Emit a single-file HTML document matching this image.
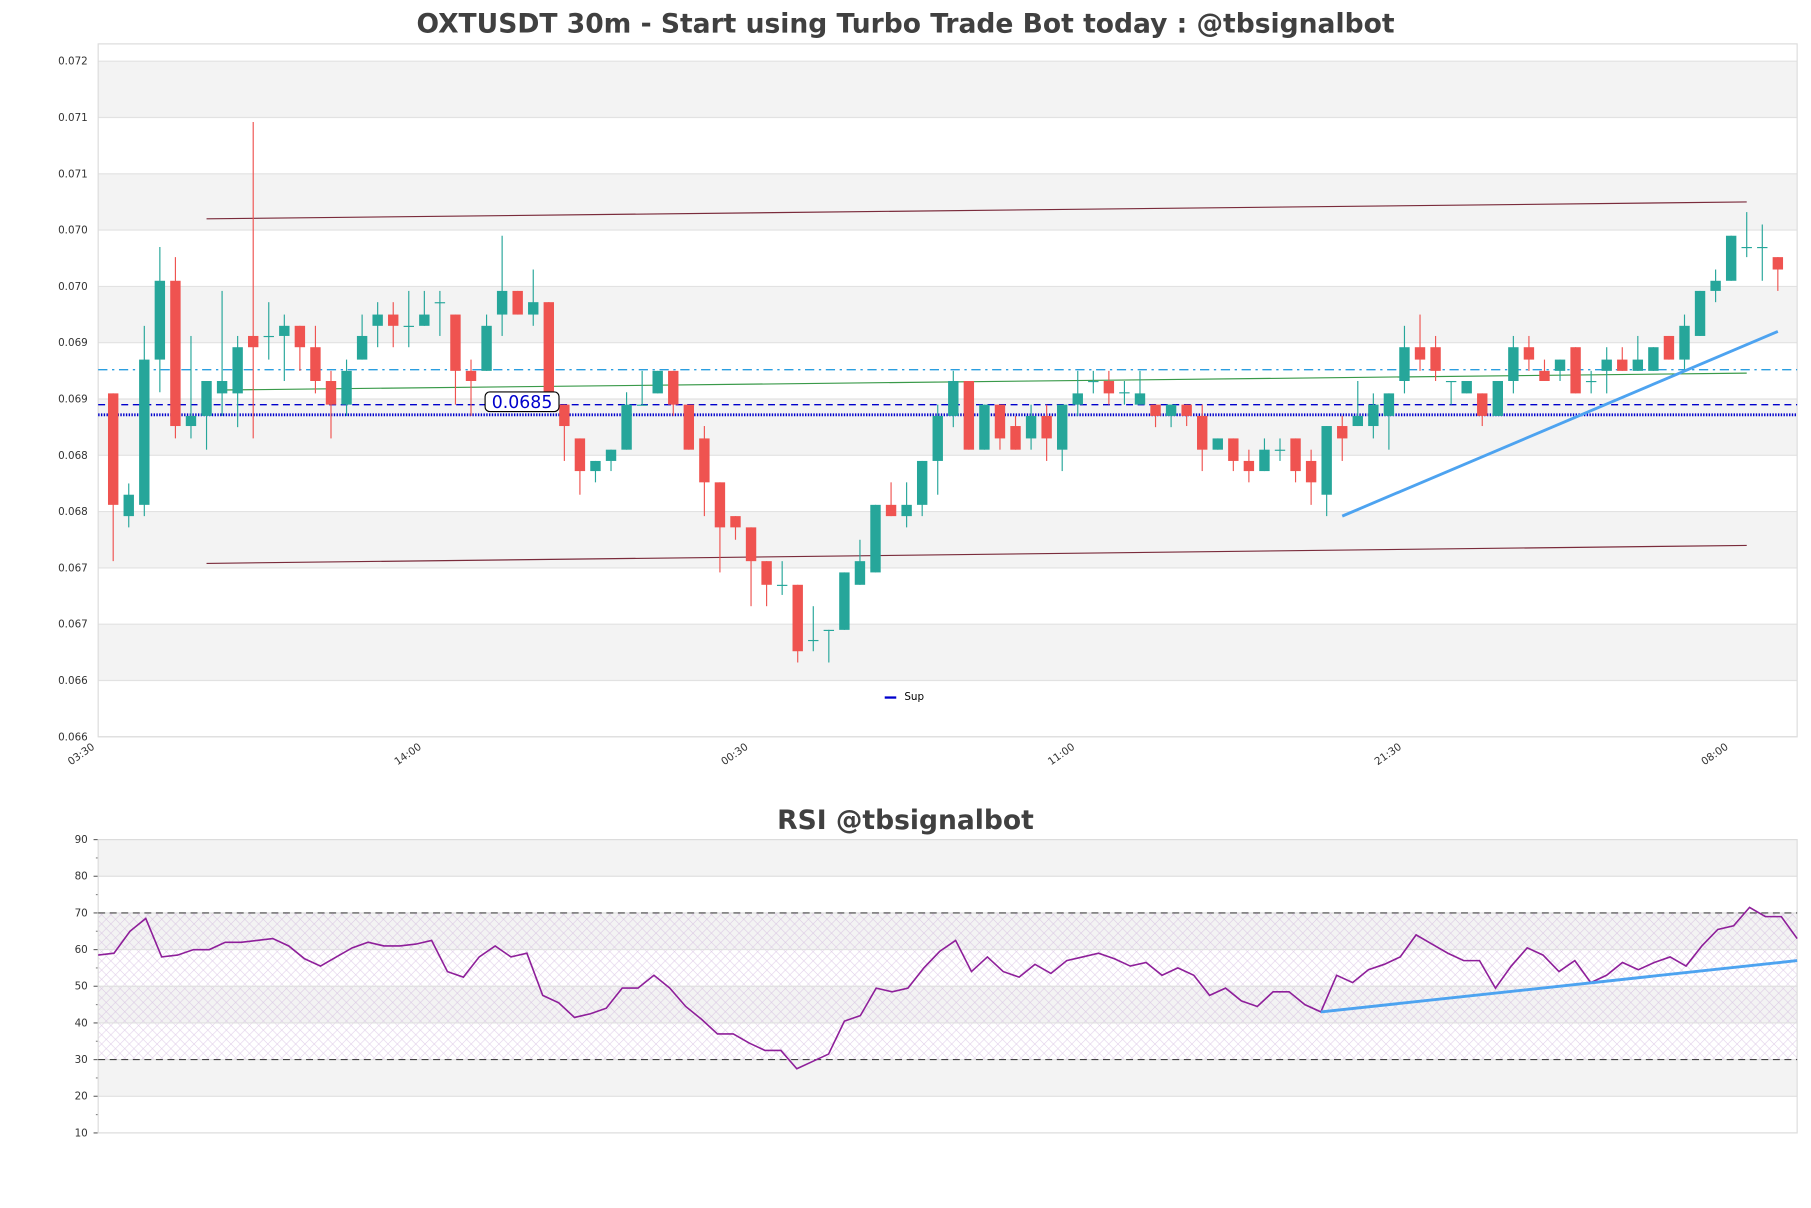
<!DOCTYPE html>
<html><head><meta charset="utf-8"><style>
html,body{margin:0;padding:0;background:#fff;}
svg{display:block;font-family:"DejaVu Sans","Liberation Sans",sans-serif;}
</style></head><body>
<svg id="chart" width="1811" height="1208" viewBox="0 0 1568 1046" preserveAspectRatio="none" xmlns="http://www.w3.org/2000/svg">
<defs>
<pattern id="hatch" width="8" height="8" patternUnits="userSpaceOnUse">
<path d="M0,0 L8,8 M8,0 L0,8" stroke="#c8a8d8" stroke-width="0.5" opacity="0.6"/>
</pattern>
</defs>
<text x="784" y="28" text-anchor="middle" font-size="23" font-weight="bold" fill="#404040">OXTUSDT 30m - Start using Turbo Trade Bot today : @tbsignalbot</text>
<g id="price"></g>
<text x="784" y="718" text-anchor="middle" font-size="23" font-weight="bold" fill="#404040">RSI @tbsignalbot</text>
<g id="rsi"></g>
</svg>
<script>
const opens=[.06905,.06796,.06806,.06935,.07005,.06876,.06885,.06905,.06905,.06956,.06956,.06956,.06965,.06946,.06916,.06895,.06935,.06965,.06975,.06965,.06965,.06986,.06975,.06925,.06925,.06975,.06996,.06975,.06986,.06895,.06865,.06836,.06845,.06855,.06895,.06905,.06925,.06895,.06865,.06826,.06796,.06786,.06756,.06735,.06735,.06686,.06695,.06695,.06735,.06746,.06806,.06796,.06806,.06845,.06885,.06916,.06855,.06895,.06876,.06865,.06885,.06855,.06895,.06916,.06916,.06906,.06895,.06895,.06885,.06895,.06885,.06855,.06865,.06845,.06836,.06855,.06865,.06845,.06815,.06876,.06876,.06876,.06885,.06916,.06946,.06946,.06916,.06905,.06905,.06885,.06916,.06946,.06925,.06925,.06946,.06916,.06925,.06935,.06925,.06925,.06956,.06935,.06956,.06996,.07005,.07035,.07035,.07026];
const highs=[.06905,.06825,.06965,.07035,.07026,.06956,.06916,.06996,.06956,.07146,.06986,.06975,.06965,.06965,.06925,.06935,.06975,.06986,.06986,.06996,.06996,.06996,.06975,.06935,.06975,.07045,.06996,.07015,.06986,.06895,.06865,.06845,.06855,.06906,.06925,.06925,.06925,.06895,.06876,.06826,.06796,.06786,.06756,.06756,.06735,.06716,.06695,.06746,.06775,.06806,.06826,.06826,.06845,.06895,.06925,.06916,.06895,.06895,.06885,.06895,.06895,.06895,.06925,.06925,.06925,.06916,.06925,.06895,.06895,.06895,.06895,.06865,.06865,.06855,.06865,.06865,.06865,.06855,.06876,.06885,.06916,.06905,.06905,.06965,.06975,.06956,.06916,.06916,.06905,.06916,.06956,.06956,.06935,.06935,.06946,.06925,.06946,.06946,.06956,.06946,.06956,.06975,.06996,.07015,.07045,.07066,.07055,.07026];
const lows=[.06756,.06786,.06796,.06906,.06865,.06865,.06855,.06885,.06875,.06865,.06935,.06916,.06925,.06905,.06865,.06885,.06935,.06946,.06946,.06946,.06965,.06956,.06895,.06885,.06925,.06956,.06975,.06965,.06895,.06845,.06815,.06826,.06836,.06855,.06895,.06905,.06885,.06855,.06796,.06746,.06775,.06716,.06716,.06726,.06666,.06676,.06666,.06695,.06735,.06746,.06796,.06786,.06796,.06815,.06875,.06855,.06855,.06855,.06855,.06855,.06845,.06836,.06885,.06905,.06895,.06895,.06895,.06875,.06875,.06876,.06836,.06855,.06836,.06826,.06836,.06845,.06826,.06806,.06796,.06845,.06876,.06865,.06855,.06905,.06925,.06916,.06895,.06905,.06876,.06885,.06905,.06925,.06916,.06916,.06905,.06905,.06905,.06925,.06925,.06925,.06935,.06925,.06956,.06986,.07005,.07026,.07005,.06996];
const closes=[.06806,.06815,.06935,.07005,.06876,.06885,.06916,.06916,.06946,.06946,.06956,.06965,.06946,.06916,.06895,.06925,.06956,.06975,.06965,.06965,.06975,.06986,.06925,.06916,.06965,.06996,.06975,.06986,.06905,.06876,.06836,.06845,.06855,.06895,.06895,.06925,.06895,.06855,.06826,.06786,.06786,.06756,.06735,.06735,.06676,.06686,.06695,.06746,.06756,.06806,.06796,.06806,.06845,.06885,.06916,.06855,.06895,.06865,.06855,.06885,.06865,.06895,.06905,.06916,.06905,.06906,.06905,.06885,.06895,.06885,.06855,.06865,.06845,.06836,.06855,.06855,.06836,.06826,.06876,.06865,.06885,.06895,.06905,.06946,.06935,.06925,.06916,.06916,.06885,.06916,.06946,.06935,.06916,.06935,.06905,.06916,.06935,.06925,.06935,.06946,.06935,.06965,.06996,.07005,.07045,.07035,.07035,.07015];
const priceTicks=[0.072,0.0715,0.071,0.0705,0.070,0.0695,0.069,0.0685,0.068,0.0675,0.067,0.0665,0.066];
const priceTickLabels=["0.072","0.071","0.071","0.070","0.070","0.069","0.069","0.068","0.068","0.067","0.067","0.066","0.066"];
const timeTickIdx=[-1,20,41,62,83,104];
const timeTickLabels=["03:30","14:00","00:30","11:00","21:30","08:00"];
const resLevel=0.06926, supLevel=0.06895, supDot=0.06886;
const upperChan=[6,0.0706,105,0.07075];
const lowerChan=[6,0.06754,105,0.0677];
const midLine=[7,0.06908,105,0.06923];
const trendLine=[79,0.06796,107,0.0696];
const rsiValues=[58.5,59,65,68.5,58,58.5,60,60,62,62,62.5,63,61,57.5,55.5,58,60.5,62,61,61,61.5,62.5,54,52.5,58,61,58,59,47.5,45.5,41.5,42.5,44,49.5,49.5,53,49.5,44.5,41,37,37,34.5,32.5,32.5,27.5,29.5,31.5,40.5,42,49.5,48.5,49.5,55,59.5,62.5,54,58,54,52.5,56,53.5,57,58,59,57.5,55.5,56.5,53,55,53,47.5,49.5,46,44.5,48.5,48.5,45,43,53,51,54.5,56,58,64,61.5,59,57,57,49.5,55.5,60.5,58.5,54,57,51,53,56.5,54.5,56.5,58,55.5,61,65.5,66.5,71.5,69,69,63];
const rsiTicks=[90,80,70,60,50,40,30,20,10];
const rsiTrend=[77,43,107,57];

const NS="http://www.w3.org/2000/svg";
function mk(parent,tag,attrs){const e=document.createElementNS(NS,tag);for(const k in attrs)e.setAttribute(k,attrs[k]);parent.appendChild(e);return e;}
const PL=85,PR=1556,PT=38,PB=638;
const yP=v=>53+(0.072-v)*97500;
const xC=i=>98+i*13.47;
const pg=document.getElementById('price');
// bands
for(let k=0;k<priceTicks.length-1;k++){
  const r=mk(pg,'rect',{x:PL,y:yP(priceTicks[k]),width:PR-PL,height:yP(priceTicks[k+1])-yP(priceTicks[k]),fill:k%2===0?'#f3f3f3':'#ffffff'});
  
  
}
priceTicks.forEach((v,k)=>{
  const l=mk(pg,'line',{x1:PL,x2:PR,y1:yP(v),y2:yP(v),stroke:'#e2e2e2','stroke-width':1});
  
  
  const t=mk(pg,'text',{x:76,y:yP(v)+3,'text-anchor':'end','font-size':9,fill:'#333'});
  t.textContent=priceTickLabels[k];
  
  
});
const fr=mk(pg,'rect',{x:PL,y:PT,width:PR-PL,height:PB-PT,fill:'none',stroke:'#dcdcdc'});


timeTickIdx.forEach((ix,k)=>{
  const x=xC(ix);
  const t=mk(pg,'text',{x:x-2,y:648,'text-anchor':'end','font-size':9,fill:'#333',transform:`rotate(-35 ${x-2} 648)`});
  t.textContent=timeTickLabels[k];
  
  
});
function seg(arr,color,w,name,dash){
  const l=mk(pg,'line',{x1:xC(arr[0]),y1:yP(arr[1]),x2:xC(arr[2]),y2:yP(arr[3]),stroke:color,'stroke-width':w});
  if(dash)l.setAttribute('stroke-dasharray',dash);
  
  
}
seg(upperChan,'#7a2b3b',1,'upper-channel-line');
seg(lowerChan,'#7a2b3b',1,'lower-channel-line');
seg(midLine,'#3a9a4a',1,'mid-trend-line');
function hline(v,color,w,dash,name){
  const l=mk(pg,'line',{x1:PL,x2:PR,y1:yP(v),y2:yP(v),stroke:color,'stroke-width':w,'stroke-dasharray':dash});
  
  
}
hline(resLevel,'#2a9ee0',1.2,'8 4 2 4','resistance-line');
hline(supLevel,'#0000cc',1.2,'6 4','support-line');
hline(supDot,'#0000cc',2.5,'1.2 1.2','support-dotted-line');
// candles
for(let i=0;i<opens.length;i++){
  const up=closes[i]>=opens[i];const col=up?'#26a69a':'#ef5350';const x=xC(i);
  const w=mk(pg,'line',{x1:x,x2:x,y1:yP(highs[i]),y2:yP(lows[i]),stroke:col,'stroke-width':1});
  
  
  const top=yP(Math.max(opens[i],closes[i])),bot=yP(Math.min(opens[i],closes[i]));
  const b=mk(pg,'rect',{x:x-4.5,y:top,width:9,height:Math.max(bot-top,1),fill:col});
  
  
}
seg(trendLine,'#4da3f0',2.5,'support-trend-line');
const lb=mk(pg,'rect',{x:420,y:yP(supLevel)-11,width:64,height:17,rx:4,fill:'#fff',stroke:'#000','stroke-width':1});


const lt=mk(pg,'text',{x:452,y:yP(supLevel)+3,'text-anchor':'middle','font-size':15,fill:'#0000cc'});
lt.textContent='0.0685';


const lgl=mk(pg,'line',{x1:766,x2:776,y1:604,y2:604,stroke:'#0000cc','stroke-width':2});


const lgt=mk(pg,'text',{x:783,y:606,'font-size':9,fill:'#000'});
lgt.textContent='Sup';



// RSI
const rg=document.getElementById('rsi');
const RT=727,RB=981;
const yR=v=>RB-(v-10)*(RB-RT)/80;
const xR=k=>PL+k*(PR-PL)/(rsiValues.length-1);
for(let k=0;k<rsiTicks.length-1;k++){
  const r=mk(rg,'rect',{x:PL,y:yR(rsiTicks[k]),width:PR-PL,height:yR(rsiTicks[k+1])-yR(rsiTicks[k]),fill:k%2===0?'#f3f3f3':'#ffffff'});
  
  
}
const hz=mk(rg,'rect',{x:PL,y:yR(70),width:PR-PL,height:yR(30)-yR(70),fill:'url(#hatch)'});


rsiTicks.forEach(v=>{
  const l=mk(rg,'line',{x1:PL,x2:PR,y1:yR(v),y2:yR(v),stroke:'#e0e0e0'});
  
  
  const tk=mk(rg,'line',{x1:PL-4,x2:PL,y1:yR(v),y2:yR(v),stroke:'#666'});
  
  
  if(v>10){const m=mk(rg,'line',{x1:PL-2,x2:PL,y1:yR(v-5),y2:yR(v-5),stroke:'#888'});
  
  }
  const t=mk(rg,'text',{x:76,y:yR(v)+3,'text-anchor':'end','font-size':9,fill:'#333'});
  t.textContent=String(v);
  
  
});
const rf=mk(rg,'rect',{x:PL,y:RT,width:PR-PL,height:RB-RT,fill:'none',stroke:'#dcdcdc'});


[70,30].forEach(v=>{
  const l=mk(rg,'line',{x1:PL,x2:PR,y1:yR(v),y2:yR(v),stroke:'#444','stroke-width':1,'stroke-dasharray':'6 4'});
  
  
});
const pts=rsiValues.map((v,k)=>xR(k).toFixed(1)+','+yR(v).toFixed(1)).join(' ');
const pl=mk(rg,'polyline',{points:pts,fill:'none',stroke:'#8e1f9a','stroke-width':1.4});


const rtl=mk(rg,'line',{x1:xR(rsiTrend[0]),y1:yR(rsiTrend[1]),x2:xR(rsiTrend[2]),y2:yR(rsiTrend[3]),stroke:'#4da3f0','stroke-width':2.5});


</script>
</body></html>
